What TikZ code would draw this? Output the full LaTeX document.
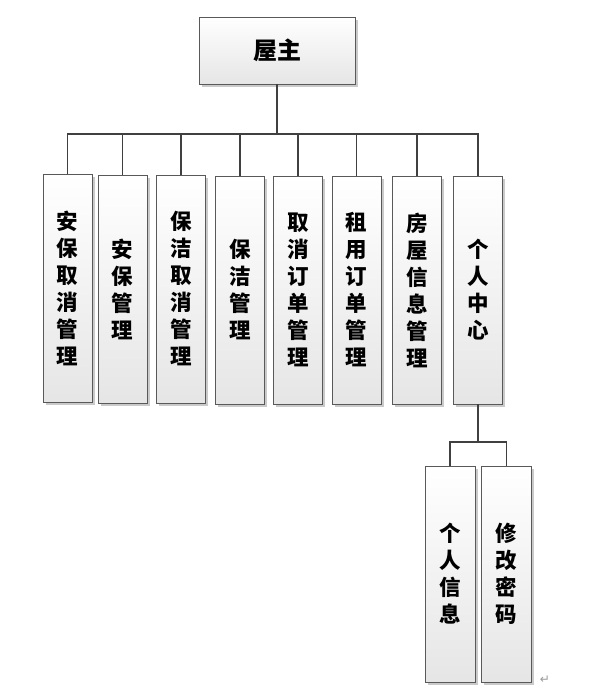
\documentclass[tikz,border=0pt]{standalone}
\usepackage{fontspec}
\setmainfont{Noto Sans CJK SC}
\newfontfamily\symfont{DejaVu Sans}
\usetikzlibrary{shadows}
\tikzset{
  box/.style={draw=black!65, line width=0.9pt, top color=white, bottom color=black!10,
    drop shadow={shadow xshift=2.5pt, shadow yshift=-2.5pt, fill=black!35, opacity=0.6},
    inner sep=0pt, align=center, font=\fontsize{21.5}{27}\selectfont\bfseries},
  mainbox/.style={box, minimum width=49pt, minimum height=228pt},
  subbox/.style={box, minimum width=50pt, minimum height=216pt},
  link/.style={draw=black!75, line width=1.5pt}
}
\begin{document}
\begin{tikzpicture}[x=1pt,y=-1pt]
\useasboundingbox (0,0) rectangle (604,696);
\node[box, minimum width=156pt, minimum height=67pt, font=\fontsize{24}{28}\selectfont\bfseries] (top) at (277,50.5) {屋主};
\node[mainbox] (b1) at (67.5,288) {安\\保\\取\\消\\管\\理};
\node[mainbox] (b2) at (122.5,289) {安\\保\\管\\理};
\node[mainbox] (b3) at (181,289) {保\\洁\\取\\消\\管\\理};
\node[mainbox] (b4) at (240,290) {保\\洁\\管\\理};
\node[mainbox] (b5) at (298,290) {取\\消\\订\\单\\管\\理};
\node[mainbox] (b6) at (356.5,290) {租\\用\\订\\单\\管\\理};
\node[mainbox] (b7) at (417,290) {房\\屋\\信\\息\\管\\理};
\node[mainbox] (b8) at (478,290) {个\\人\\中\\心};
\node[subbox] (s1) at (450,574) {个\\人\\信\\息};
\node[subbox] (s2) at (506.5,574) {修\\改\\密\\码};
\coordinate (bus) at (0,134);
\coordinate (subbus) at (0,442);
\foreach \b in {b1,b2,b3,b4,b5,b6,b7,b8}{
  \draw[link] (top.south) -- (top.south |- bus) -| (\b.north);
}
\foreach \b in {s1,s2}{
  \draw[link] (b8.south) -- (b8.south |- subbus) -| (\b.north);
}
\node[text=black!40, font=\symfont\fontsize{12}{12}\selectfont] (ret) at (545,680) {↵};
\end{tikzpicture}
\end{document}
